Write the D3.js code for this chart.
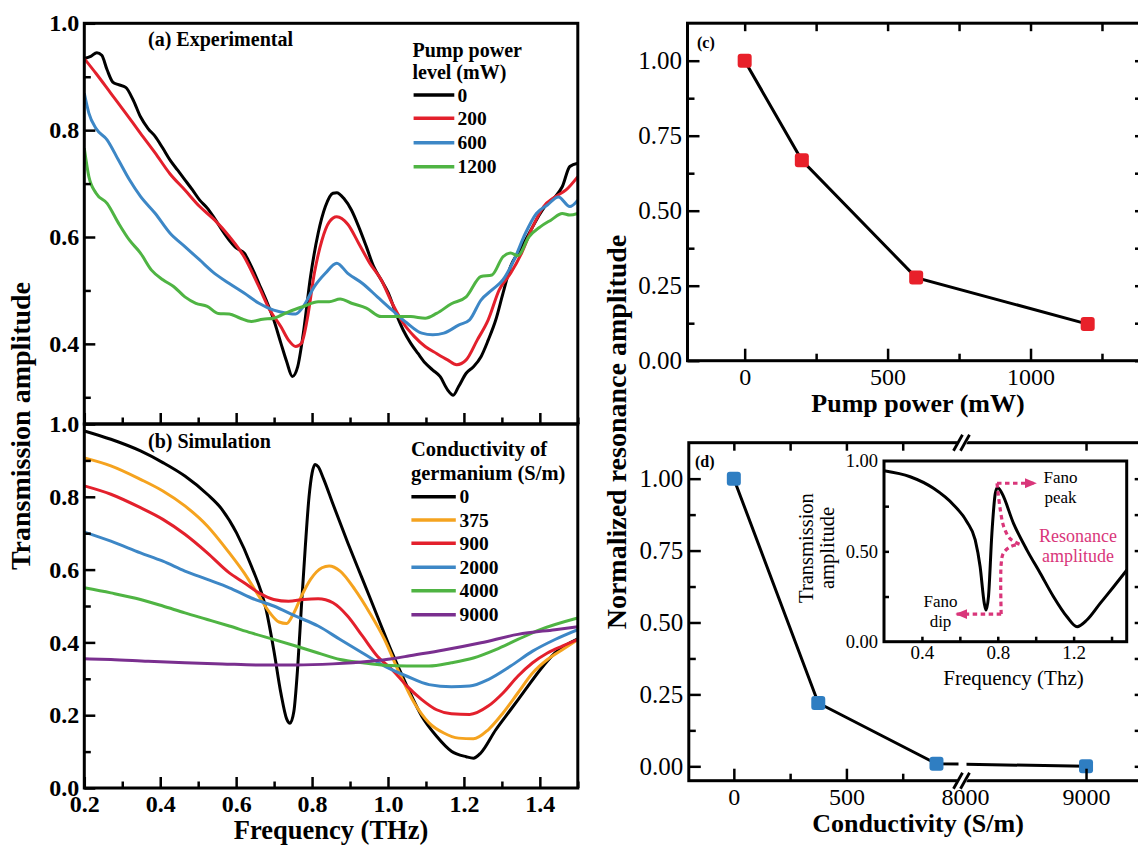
<!DOCTYPE html>
<html><head><meta charset="utf-8">
<script src="https://cdn.jsdelivr.net/npm/d3@7"></script>
<style>body{margin:0;background:#fff}</style>
</head><body>
<script>
// ---------------- DATA ----------------
// (a) experimental transmission [frequency THz, amplitude]
const exp0 = [[0.2,0.934],[0.217,0.938],[0.233,0.945],[0.246,0.94],[0.26,0.913],[0.275,0.89],[0.29,0.885],[0.309,0.88],[0.329,0.856],[0.348,0.825],[0.368,0.803],[0.387,0.788],[0.407,0.766],[0.426,0.744],[0.446,0.725],[0.465,0.707],[0.485,0.688],[0.504,0.669],[0.524,0.654],[0.543,0.635],[0.563,0.613],[0.582,0.594],[0.601,0.579],[0.621,0.57],[0.64,0.545],[0.66,0.513],[0.679,0.482],[0.699,0.445],[0.718,0.401],[0.733,0.367],[0.748,0.339],[0.762,0.357],[0.777,0.42],[0.796,0.526],[0.816,0.607],[0.835,0.657],[0.855,0.682],[0.865,0.683],[0.884,0.672],[0.904,0.65],[0.923,0.619],[0.943,0.582],[0.962,0.545],[0.982,0.52],[1.001,0.495],[1.021,0.457],[1.04,0.426],[1.06,0.401],[1.079,0.382],[1.098,0.364],[1.118,0.351],[1.137,0.339],[1.157,0.314],[1.172,0.304],[1.186,0.32],[1.206,0.345],[1.225,0.357],[1.245,0.376],[1.264,0.407],[1.284,0.445],[1.303,0.495],[1.323,0.545],[1.342,0.57],[1.362,0.594],[1.381,0.619],[1.401,0.644],[1.42,0.663],[1.44,0.675],[1.459,0.694],[1.479,0.732],[1.5,0.738]];
const exp200 = [[0.2,0.934],[0.231,0.906],[0.27,0.869],[0.309,0.832],[0.348,0.794],[0.387,0.757],[0.426,0.718],[0.465,0.688],[0.504,0.657],[0.543,0.632],[0.582,0.601],[0.621,0.563],[0.66,0.507],[0.689,0.463],[0.718,0.432],[0.738,0.407],[0.757,0.395],[0.772,0.401],[0.787,0.445],[0.806,0.532],[0.826,0.594],[0.845,0.628],[0.865,0.638],[0.894,0.624],[0.923,0.588],[0.952,0.551],[0.982,0.52],[1.011,0.476],[1.04,0.439],[1.069,0.414],[1.098,0.395],[1.128,0.382],[1.157,0.37],[1.181,0.361],[1.206,0.37],[1.235,0.407],[1.264,0.445],[1.293,0.501],[1.323,0.532],[1.352,0.57],[1.381,0.619],[1.41,0.657],[1.44,0.675],[1.469,0.688],[1.5,0.713]];
const exp600 = [[0.2,0.869],[0.212,0.832],[0.231,0.803],[0.26,0.782],[0.29,0.744],[0.319,0.707],[0.348,0.676],[0.387,0.644],[0.426,0.607],[0.465,0.582],[0.504,0.557],[0.543,0.532],[0.582,0.513],[0.621,0.495],[0.66,0.476],[0.699,0.463],[0.738,0.457],[0.757,0.456],[0.777,0.47],[0.806,0.507],[0.835,0.532],[0.865,0.551],[0.894,0.532],[0.933,0.513],[0.972,0.488],[1.011,0.463],[1.05,0.439],[1.089,0.42],[1.118,0.417],[1.147,0.42],[1.186,0.435],[1.215,0.445],[1.245,0.482],[1.274,0.501],[1.303,0.52],[1.332,0.557],[1.362,0.607],[1.391,0.644],[1.42,0.66],[1.449,0.675],[1.479,0.657],[1.5,0.669]];
const exp1200 = [[0.2,0.766],[0.212,0.713],[0.231,0.682],[0.26,0.663],[0.29,0.626],[0.319,0.594],[0.348,0.57],[0.377,0.538],[0.407,0.52],[0.436,0.507],[0.465,0.488],[0.494,0.476],[0.524,0.47],[0.553,0.457],[0.582,0.456],[0.611,0.448],[0.64,0.442],[0.67,0.446],[0.699,0.448],[0.738,0.46],[0.777,0.47],[0.816,0.479],[0.845,0.479],[0.874,0.484],[0.904,0.476],[0.943,0.467],[0.982,0.451],[1.021,0.451],[1.06,0.451],[1.098,0.448],[1.128,0.457],[1.167,0.475],[1.206,0.488],[1.245,0.526],[1.274,0.529],[1.303,0.563],[1.323,0.57],[1.342,0.565],[1.371,0.6],[1.401,0.619],[1.43,0.632],[1.459,0.644],[1.479,0.641],[1.5,0.644]];
const pumpLevels = ["0","200","600","1200"];

// (b) simulated transmission
const sim0 = [[0.2,0.981],[0.27,0.958],[0.348,0.926],[0.407,0.894],[0.465,0.857],[0.524,0.807],[0.563,0.765],[0.601,0.701],[0.64,0.61],[0.679,0.49],[0.699,0.38],[0.718,0.26],[0.733,0.19],[0.742,0.178],[0.752,0.21],[0.762,0.33],[0.772,0.5],[0.782,0.66],[0.792,0.8],[0.8,0.865],[0.808,0.889],[0.816,0.883],[0.83,0.85],[0.855,0.78],[0.894,0.674],[0.933,0.573],[0.972,0.472],[1.011,0.371],[1.05,0.28],[1.089,0.197],[1.128,0.142],[1.167,0.101],[1.206,0.086],[1.225,0.082],[1.245,0.097],[1.284,0.16],[1.323,0.215],[1.362,0.27],[1.401,0.325],[1.44,0.371],[1.5,0.41]];
const sim375 = [[0.2,0.907],[0.27,0.885],[0.348,0.848],[0.407,0.816],[0.465,0.775],[0.524,0.72],[0.582,0.646],[0.621,0.591],[0.66,0.527],[0.689,0.481],[0.713,0.456],[0.733,0.452],[0.752,0.481],[0.772,0.527],[0.796,0.573],[0.826,0.605],[0.845,0.61],[0.874,0.596],[0.913,0.545],[0.952,0.481],[0.991,0.408],[1.03,0.316],[1.069,0.234],[1.108,0.179],[1.147,0.151],[1.186,0.137],[1.225,0.135],[1.264,0.16],[1.303,0.206],[1.342,0.261],[1.381,0.316],[1.42,0.353],[1.459,0.38],[1.5,0.408]];
const sim900 = [[0.2,0.83],[0.27,0.807],[0.348,0.77],[0.407,0.738],[0.465,0.697],[0.524,0.646],[0.582,0.591],[0.621,0.564],[0.66,0.536],[0.699,0.518],[0.738,0.513],[0.777,0.518],[0.816,0.52],[0.855,0.509],[0.894,0.472],[0.933,0.417],[0.972,0.362],[1.011,0.325],[1.05,0.28],[1.089,0.243],[1.128,0.215],[1.167,0.204],[1.215,0.202],[1.264,0.225],[1.303,0.261],[1.342,0.307],[1.381,0.344],[1.42,0.371],[1.459,0.39],[1.5,0.408]];
const sim2000 = [[0.2,0.703],[0.27,0.678],[0.348,0.646],[0.407,0.623],[0.465,0.596],[0.524,0.573],[0.582,0.55],[0.64,0.522],[0.699,0.5],[0.757,0.472],[0.816,0.445],[0.874,0.408],[0.933,0.371],[0.991,0.335],[1.05,0.307],[1.108,0.284],[1.167,0.278],[1.215,0.28],[1.264,0.298],[1.323,0.335],[1.381,0.376],[1.44,0.408],[1.5,0.435]];
const sim4000 = [[0.2,0.55],[0.27,0.536],[0.348,0.518],[0.407,0.5],[0.465,0.481],[0.524,0.463],[0.582,0.445],[0.64,0.426],[0.699,0.408],[0.757,0.39],[0.816,0.371],[0.874,0.353],[0.933,0.344],[0.991,0.337],[1.05,0.335],[1.108,0.335],[1.167,0.344],[1.225,0.357],[1.284,0.38],[1.342,0.408],[1.401,0.435],[1.5,0.467]];
const sim9000 = [[0.2,0.355],[0.27,0.353],[0.368,0.348],[0.465,0.344],[0.563,0.341],[0.66,0.338],[0.757,0.338],[0.855,0.341],[0.952,0.348],[1.011,0.355],[1.05,0.362],[1.147,0.379],[1.245,0.399],[1.342,0.422],[1.44,0.435],[1.5,0.443]];
const condLevels = ["0","375","900","2000","4000","9000"];

// (c) normalized resonance amplitude vs pump power
const pumpPower = [0, 200, 600, 1200];
const pumpAmp = [1.00, 0.668, 0.277, 0.122];

// (d) normalized resonance amplitude vs conductivity
const conductivity = [0, 375, 900, 9000];
const condAmp = [1.00, 0.22, 0.009, 0.0];

// (d) inset: simulated transmission, 0 S/m
const insetCurve = [[0.2,0.946],[0.338,0.913],[0.461,0.849],[0.567,0.757],[0.637,0.664],[0.681,0.563],[0.707,0.415],[0.729,0.212],[0.738,0.175],[0.751,0.249],[0.769,0.6],[0.787,0.821],[0.799,0.854],[0.822,0.821],[0.883,0.655],[0.954,0.507],[1.024,0.379],[1.094,0.249],[1.165,0.138],[1.218,0.083],[1.27,0.12],[1.34,0.212],[1.411,0.304],[1.481,0.397]];
// inset annotation guides (inset data coordinates)
const peakArrow = [[0.796,0.877],[1.006,0.877]];
const dipArrow = [[0.818,0.153],[0.576,0.153]];
const braceUpper = [[0.796,0.877],[0.812,0.74],[0.832,0.635],[0.865,0.57],[0.915,0.539]];
const braceLower = [[0.818,0.153],[0.818,0.43],[0.83,0.49],[0.868,0.527],[0.915,0.539]];

// tick values
const freqMajor = [0.2,0.4,0.6,0.8,1.0,1.2,1.4];
const freqMinor = [0.3,0.5,0.7,0.9,1.1,1.3,1.5];
const aMajor = [0.4,0.6,0.8,1.0], aMinor = [0.3,0.5,0.7,0.9];
const bMajor = [0,0.2,0.4,0.6,0.8,1.0], bMinor = [0.1,0.3,0.5,0.7,0.9];
const normMajor = [0,0.25,0.5,0.75,1.0], normMinor = [0.125,0.375,0.625,0.875];
const pumpMajor = [0,500,1000], pumpMinor = [250,750,1250];
const condMajor = [0,500,9000], condMinor = [250,750], condTop = [0,250,500,750,9000];
const insetXTicks = [0.4,0.6,0.8,1.0,1.2,1.4], insetXLabels = [0.4,0.8,1.2];
const insetYTicks = [0.25,0.5,0.75], insetYLabels = [0,0.5,1.0];

// ---------------- STYLE ----------------
const SERIF = "'Liberation Serif','Times New Roman',serif";
const colExp = ["#000000","#e3202c","#3d87c6","#4fb443"];
const colSim = ["#000000","#f5a31f","#e3202c","#3d87c6","#4fb443","#7a2f8f"];
const PINK = "#d9367a";

const svg = d3.select("body").append("svg").attr("width",1138).attr("height",848)
  .style("background","#fff");
const defs = svg.append("defs");

// ---------------- SCALES ----------------
const xF = d3.scaleLinear().domain([0.2,1.5]).range([84.3,577.8]);
const yA = d3.scaleLinear().domain([0.25,1.0]).range([424,23.3]);
const yB = d3.scaleLinear().domain([0,1.0]).range([788,424]);
const xC = d3.scaleLinear().domain([-200,1390]).range([687.5,1142]);
const yC = d3.scaleLinear().domain([0,1.125]).range([360.7,23.2]);
const xD = d3.scaleLinear().domain([-200,1000,8000,9460]).range([688.8,959,965,1141.7]);
const yD = d3.scaleLinear().domain([-0.05,1.125]).range([780.7,442.7]);
const xI = d3.scaleLinear().domain([0.2,1.48]).range([884,1126.7]);
const yI = d3.scaleLinear().domain([0,1]).range([641.7,461]);

// ---------------- HELPERS ----------------
function axis(gen, scale, values, size, translate, fmt, pad, fsize, weight) {
  const a = gen(scale).tickValues(values).tickSizeInner(size).tickSizeOuter(0)
    .tickPadding(pad || 5).tickFormat(fmt || (() => ""));
  const g = svg.append("g").attr("transform", translate).call(a);
  g.select(".domain").remove();
  g.selectAll(".tick line").attr("stroke","#000").attr("stroke-width",2.5);
  g.selectAll(".tick text").attr("font-family",SERIF).attr("font-size",fsize||24)
    .attr("font-weight",weight||"bold").attr("fill","#000");
  return g;
}
function clip(id, x0, y0, x1, y1) {
  defs.append("clipPath").attr("id",id).append("rect")
    .attr("x",x0).attr("y",y0).attr("width",x1-x0).attr("height",y1-y0);
  return "url(#"+id+")";
}
function text(x, y, s, size, opts) {
  opts = opts || {};
  const t = svg.append("text").attr("x",x).attr("y",y).text(s)
    .attr("font-family",SERIF).attr("font-size",size)
    .attr("font-weight",opts.weight||"bold").attr("fill",opts.fill||"#000")
    .attr("text-anchor",opts.anchor||"start");
  if (opts.rotate) t.attr("transform",`rotate(-90,${x},${y})`);
  return t;
}
function frame(x0,y0,x1,y1,w) {
  svg.append("rect").attr("x",x0).attr("y",y0).attr("width",x1-x0).attr("height",y1-y0)
    .attr("fill","none").attr("stroke","#000").attr("stroke-width",w||3);
}
const lineGen = (xs, ys, curve) => d3.line().x(d=>xs(d[0])).y(d=>ys(d[1])).curve(curve||d3.curveMonotoneX);

// ---------------- PANEL (a) ----------------
const clipA = clip("ca", xF(0.2), yA(1.0), xF(1.5), yA(0.25));
const gA = svg.append("g").attr("clip-path", clipA);
[exp0, exp200, exp600, exp1200].forEach((s,i) => {
  gA.append("path").attr("d", lineGen(xF,yA)(s)).attr("fill","none")
    .attr("stroke",colExp[i]).attr("stroke-width",3).attr("stroke-linejoin","round");
});
axis(d3.axisLeft, yA, aMajor, -11, `translate(${xF(0.2)},0)`, d3.format(".1f"), 5, 24);
axis(d3.axisLeft, yA, aMinor, -6.5, `translate(${xF(0.2)},0)`);
axis(d3.axisBottom, xF, freqMajor, -11, `translate(0,${yA(0.25)})`);
axis(d3.axisBottom, xF, freqMinor, -6.5, `translate(0,${yA(0.25)})`);
frame(xF(0.2), yA(1.0), xF(1.5), yA(0.25));
text(148, 46, "(a) Experimental", 20);
text(412.5, 57, "Pump power", 20);
text(412.5, 78.5, "level (mW)", 20);
const legA = [95, 118.3, 142.7, 166.7];
pumpLevels.forEach((lab,i) => {
  svg.append("line").attr("x1",413.6).attr("x2",454.3).attr("y1",legA[i]).attr("y2",legA[i])
    .attr("stroke",colExp[i]).attr("stroke-width",3.5);
  text(457.5, legA[i]+6.5, lab, 19.5);
});

// ---------------- PANEL (b) ----------------
const clipB = clip("cb", xF(0.2), yB(1.0), xF(1.5), yB(0));
const gB = svg.append("g").attr("clip-path", clipB);
[sim0, sim375, sim900, sim2000, sim4000, sim9000].forEach((s,i) => {
  gB.append("path").attr("d", lineGen(xF,yB)(s)).attr("fill","none")
    .attr("stroke",colSim[i]).attr("stroke-width",3).attr("stroke-linejoin","round");
});
axis(d3.axisLeft, yB, bMajor, -11, `translate(${xF(0.2)},0)`, d3.format(".1f"), 5, 24);
axis(d3.axisLeft, yB, bMinor, -6.5, `translate(${xF(0.2)},0)`);
axis(d3.axisBottom, xF, freqMajor, -11, `translate(0,${yB(0)})`, d3.format(".1f"), 7, 24);
axis(d3.axisBottom, xF, freqMinor, -6.5, `translate(0,${yB(0)})`);
frame(xF(0.2), yB(1.0), xF(1.5), yB(0));
text(148, 447.5, "(b) Simulation", 20);
text(411, 456, "Conductivity of", 20.5);
text(411, 479.5, "germanium (S/m)", 20.5);
const legB = [496.7, 520, 543.3, 567.3, 590.7, 614.7];
condLevels.forEach((lab,i) => {
  svg.append("line").attr("x1",411.4).attr("x2",455.8).attr("y1",legB[i]).attr("y2",legB[i])
    .attr("stroke",colSim[i]).attr("stroke-width",3.5);
  text(459.5, legB[i]+6.5, lab, 19.5);
});
text(30, 426, "Transmission amplitude", 28, {anchor:"middle", rotate:true});
text(xF(0.85), 839, "Frequency (THz)", 26.5, {anchor:"middle"});

// ---------------- PANEL (c) ----------------
const ptsC = pumpPower.map((p,i) => [p, pumpAmp[i]]);
svg.append("path").attr("d", lineGen(xC,yC,d3.curveLinear)(ptsC)).attr("fill","none")
  .attr("stroke","#000").attr("stroke-width",3);
svg.selectAll(".mc").data(ptsC).enter().append("rect")
  .attr("x",d=>xC(d[0])-7).attr("y",d=>yC(d[1])-7).attr("width",14).attr("height",14)
  .attr("rx",3).attr("fill","#e8202a");
axis(d3.axisLeft, yC, normMajor, -12, `translate(${xC(-200)},0)`, d3.format(".2f"), 5.5, 25, "normal");
axis(d3.axisLeft, yC, normMinor, -7, `translate(${xC(-200)},0)`);
axis(d3.axisRight, yC, normMajor.concat(normMinor), -7, `translate(${xC(1390)},0)`);
axis(d3.axisBottom, xC, pumpMajor, -12, `translate(0,${yC(0)})`, d3.format("d"), 7, 24, "normal");
axis(d3.axisBottom, xC, pumpMinor, -7, `translate(0,${yC(0)})`);
axis(d3.axisTop, xC, pumpMajor.concat(pumpMinor), -8, `translate(0,${yC(1.125)})`);
frame(xC(-200), yC(1.125), xC(1390), yC(0));
text(697, 48, "(c)", 16);
text(918, 412, "Pump power (mW)", 26, {anchor:"middle"});

// ---------------- PANEL (d) ----------------
const ptsD = conductivity.map((c,i) => [c, condAmp[i]]);
const clipDL = clip("cdl", 680, 430, xD(1000)-0.5, 800);
const clipDR = clip("cdr", xD(8000)+1.5, 430, 1142, 800);
[clipDL, clipDR].forEach(cp => {
  svg.append("path").attr("clip-path",cp).attr("d", lineGen(xD,yD,d3.curveLinear)(ptsD))
    .attr("fill","none").attr("stroke","#000").attr("stroke-width",3);
});
svg.selectAll(".md").data(ptsD).enter().append("rect")
  .attr("x",d=>xD(d[0])-7).attr("y",d=>yD(d[1])-7).attr("width",14).attr("height",14)
  .attr("rx",3).attr("fill","#2f7ec2");
axis(d3.axisLeft, yD, normMajor, -12, `translate(${xD(-200)},0)`, d3.format(".2f"), 5.5, 25, "normal");
axis(d3.axisLeft, yD, normMinor, -7, `translate(${xD(-200)},0)`);
axis(d3.axisRight, yD, normMajor.concat(normMinor), -7, `translate(${xD(9460)},0)`);
axis(d3.axisBottom, xD, condMajor, -12, `translate(0,${yD(-0.05)})`, d3.format("d"), 7, 24, "normal");
axis(d3.axisBottom, xD, [8000], 0, `translate(0,${yD(-0.05)})`, d3.format("d"), 7, 24, "normal");
axis(d3.axisBottom, xD, condMinor, -7, `translate(0,${yD(-0.05)})`);
axis(d3.axisTop, xD, condTop, -8, `translate(0,${yD(1.125)})`);
frame(xD(-200), yD(1.125), xD(9460), yD(-0.05));
// axis break marks
[yD(1.125), yD(-0.05)].forEach(yy => {
  const xb = (xD(1000)+xD(8000))/2;
  svg.append("polygon").attr("points",`${xb-9},${yy+8} ${xb-1},${yy-8} ${xb+9},${yy-8} ${xb+1},${yy+8}`)
    .attr("fill","#fff");
  [-4, 3].forEach(dx => svg.append("line")
    .attr("x1",xb+dx-4.5).attr("y1",yy+8).attr("x2",xb+dx+4.5).attr("y2",yy-8)
    .attr("stroke","#000").attr("stroke-width",2.8));
});
text(695, 467, "(d)", 16);
text(918, 832, "Conductivity (S/m)", 26, {anchor:"middle"});
text(626, 432, "Normalized resonance amplitude", 28, {anchor:"middle", rotate:true});

// ---------------- INSET ----------------
svg.append("rect").attr("x",xI(0.2)).attr("y",yI(1)).attr("width",xI(1.48)-xI(0.2))
  .attr("height",yI(0)-yI(1)).attr("fill","#fff");
const clipI = clip("ci", xI(0.2), yI(1), xI(1.48), yI(0));
svg.append("path").attr("clip-path",clipI).attr("d", lineGen(xI,yI)(insetCurve))
  .attr("fill","none").attr("stroke","#000").attr("stroke-width",3);
// annotations
defs.append("marker").attr("id","arr").attr("viewBox","0 0 12 10").attr("refX",12).attr("refY",5)
  .attr("markerWidth",12).attr("markerHeight",10).attr("markerUnits","userSpaceOnUse")
  .attr("orient","auto").append("path").attr("d","M0,0 L12,5 L0,10 Z").attr("fill",PINK);
const dashed = (pts, curve, arrow) => {
  const p = svg.append("path").attr("d", lineGen(xI,yI,curve||d3.curveLinear)(pts))
    .attr("fill","none").attr("stroke",PINK).attr("stroke-width",3.2)
    .attr("stroke-dasharray","4.5,3.5");
  if (arrow) p.attr("marker-end","url(#arr)");
};
dashed(peakArrow, null, true);
dashed(dipArrow, null, true);
dashed(braceUpper, d3.curveCatmullRom);
dashed(braceLower, d3.curveCatmullRom);
axis(d3.axisLeft, yI, insetYTicks, -5, `translate(${xI(0.2)},0)`);
axis(d3.axisLeft, yI, insetYLabels, 0, `translate(${xI(0.2)},0)`, d3.format(".2f"), 6, 18.5, "normal");
axis(d3.axisBottom, xI, insetXTicks, -5, `translate(0,${yI(0)})`);
axis(d3.axisBottom, xI, insetXLabels, 0, `translate(0,${yI(0)})`, d3.format(".1f"), 4, 19, "normal");
frame(xI(0.2), yI(1), xI(1.48), yI(0), 3);
text(1060.5, 482.5, "Fano", 17, {anchor:"middle", weight:"normal"});
text(1060.5, 502.5, "peak", 17, {anchor:"middle", weight:"normal"});
text(940.5, 606.5, "Fano", 17, {anchor:"middle", weight:"normal"});
text(940.5, 626.5, "dip", 17, {anchor:"middle", weight:"normal"});
text(1078, 541.5, "Resonance", 18, {anchor:"middle", weight:"normal", fill:PINK});
text(1078, 561.5, "amplitude", 18, {anchor:"middle", weight:"normal", fill:PINK});
text(813, 548, "Transmission", 20.5, {anchor:"middle", weight:"normal", rotate:true});
text(834, 548, "amplitude", 20.5, {anchor:"middle", weight:"normal", rotate:true});
text(1013.5, 685, "Frequency (Thz)", 21, {anchor:"middle", weight:"normal"});
</script>
</body></html>
